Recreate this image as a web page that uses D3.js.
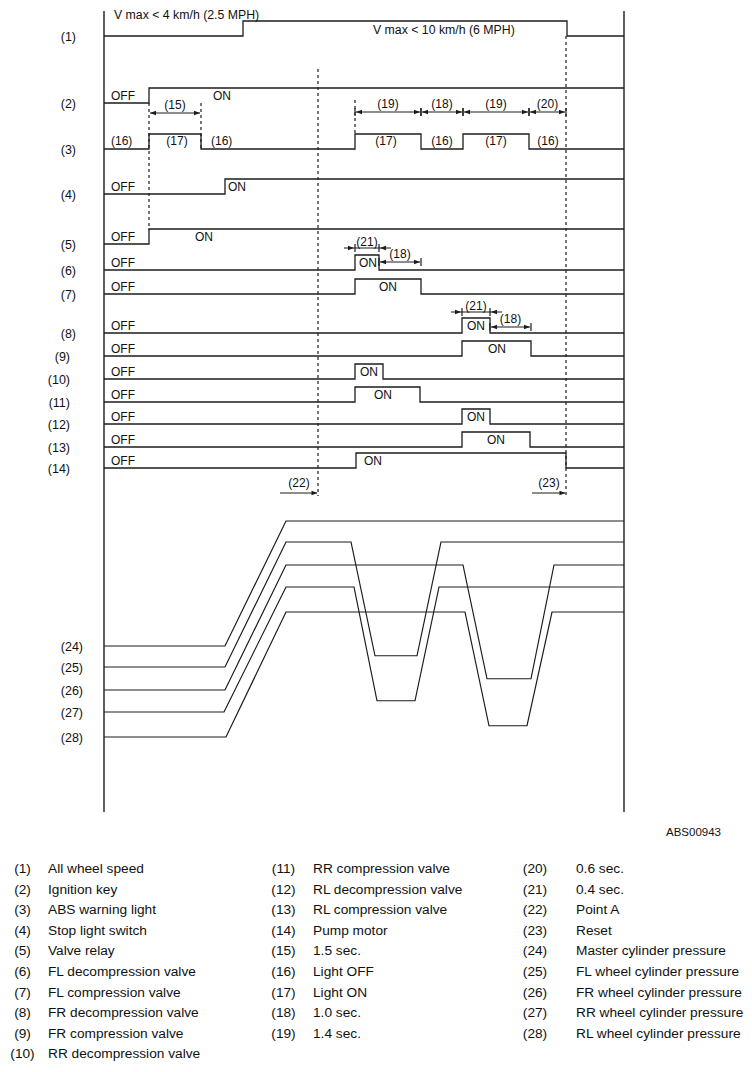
<!DOCTYPE html>
<html><head><meta charset="utf-8">
<script src="https://cdn.jsdelivr.net/npm/d3@7"></script>
<style>
body{margin:0;background:#fff}
text{font-family:"Liberation Sans",Arial,Helvetica,sans-serif;fill:#111}
</style>
</head><body>
<svg id="c" width="752" height="1072"></svg>
<script>
// ================= DATA =================
// time axis (arbitrary units across the diagram)
const timeDomain = [0, 520];

// digital signal rows: label and transition times (each starts LOW / OFF)
const rowLabels = ["(1)","(2)","(3)","(4)","(5)","(6)","(7)","(8)","(9)","(10)","(11)","(12)","(13)","(14)"];
const rowEdges = [
  [139, 463],
  [45],
  [45, 97, 251, 317, 359, 425],
  [121],
  [45],
  [251, 275],
  [251, 317],
  [358, 386],
  [358, 427],
  [251, 279],
  [251, 316],
  [358, 386],
  [358, 426],
  [252, 462]
];
const offText = ["", "OFF", "", "OFF", "OFF", "OFF", "OFF", "OFF", "OFF", "OFF", "OFF", "OFF", "OFF", "OFF"];
const onText  = ["", "ON", "", "ON", "ON", "ON", "ON", "ON", "ON", "ON", "ON", "ON", "ON", "ON"];
const speedTexts = ["V max < 4 km/h (2.5 MPH)", "V max < 10 km/h (6 MPH)"];
const lampTexts = ["(16)", "(17)", "(16)", "(17)", "(16)", "(17)", "(16)"];

// timing annotations
const durations = [
  {label: "(15)", t0: 45,  t1: 97,  kind: "out"},
  {label: "(19)", t0: 251, t1: 317, kind: "out"},
  {label: "(18)", t0: 317, t1: 359, kind: "out"},
  {label: "(19)", t0: 359, t1: 425, kind: "out"},
  {label: "(20)", t0: 425, t1: 462, kind: "out"},
  {label: "(21)", t0: 251, t1: 275, kind: "in"},
  {label: "(18)", t0: 275, t1: 317, kind: "out"},
  {label: "(21)", t0: 358, t1: 386, kind: "in"},
  {label: "(18)", t0: 386, t1: 427, kind: "out"},
  {label: "(22)", t0: 176, t1: 214, kind: "right"},
  {label: "(23)", t0: 428, t1: 462, kind: "right"}
];
const guideTimes = [45, 97, 214, 251, 462];

// pressure curves: [time, pressure %]
const pressureLabels = ["(24)","(25)","(26)","(27)","(28)"];
const pressureSeries = [
  [[0,0],[121,0],[182,100],[520,100]],
  [[0,0],[121,0],[182,100],[247,100],[271,9],[313,9],[337,100],[520,100]],
  [[0,0],[121,0],[182,100],[359,100],[383,9],[427,9],[450,100],[520,100]],
  [[0,0],[120,0],[182,100],[250,100],[273,9],[311,9],[335,100],[520,100]],
  [[0,0],[122,0],[182,100],[361,100],[385,9],[423,9],[448,100],[520,100]]
];

// legend
const legendCodes = ["(1)","(2)","(3)","(4)","(5)","(6)","(7)","(8)","(9)","(10)",
  "(11)","(12)","(13)","(14)","(15)","(16)","(17)","(18)","(19)",
  "(20)","(21)","(22)","(23)","(24)","(25)","(26)","(27)","(28)"];
const legendNames = ["All wheel speed","Ignition key","ABS warning light","Stop light switch","Valve relay",
  "FL decompression valve","FL compression valve","FR decompression valve","FR compression valve","RR decompression valve",
  "RR compression valve","RL decompression valve","RL compression valve","Pump motor","1.5 sec.","Light OFF","Light ON","1.0 sec.","1.4 sec.",
  "0.6 sec.","0.4 sec.","Point A","Reset","Master cylinder pressure","FL wheel cylinder pressure","FR wheel cylinder pressure",
  "RR wheel cylinder pressure","RL wheel cylinder pressure"];
const figureId = "ABS00943";

// ================= LAYOUT =================
const INK = "#1c1c1c";
const svg = d3.select("#c");
const x = d3.scaleLinear().domain(timeDomain).range([104, 624]);
const level = d3.scaleLinear().domain([0, 1]).range([0, -15]);
const rowBase = d3.scaleOrdinal().domain(rowLabels)
  .range([36,103,149,194,244,270,294,333,356,379,402,424,447,468]);
const rowLabelX = [76,76,76,76,76,76,76,76,70,70,70,70,70,70];
const onPos = [null,{t:109,a:"start"},null,{t:124,a:"start"},{t:91,a:"start"},{t:255,a:"start"},{t:284,a:"middle"},
  {t:363,a:"start"},{t:393,a:"middle"},{t:256,a:"start"},{t:279,a:"middle"},{t:363,a:"start"},{t:392,a:"middle"},{t:260,a:"start"}];
const lampPos = [{t:7,a:"start"},{t:73,a:"middle"},{t:107,a:"start"},{t:282,a:"middle"},{t:338,a:"middle"},{t:392,a:"middle"},{t:444,a:"middle"}];
const durY = [113,112,112,112,112,248,262,312,327,493,493];
const guideY = [[103,230],[103,150],[69,496],[100,134],[36,496]];
const pY = d3.scaleLinear().domain([0,100]).range([0,-125]);
const pBase = d3.scaleOrdinal().domain(pressureLabels).range([646,667,690,712,737]);

const g = svg.append("g");

// frame verticals
g.append("line").attr("x1", x(0)).attr("x2", x(0)).attr("y1", 11).attr("y2", 812)
  .attr("stroke", INK).attr("stroke-width", 1.4);
g.append("line").attr("x1", x(520)).attr("x2", x(520)).attr("y1", 11).attr("y2", 812)
  .attr("stroke", INK).attr("stroke-width", 1.4);

// guides
guideTimes.forEach((t, i) => {
  g.append("line").attr("x1", x(t)).attr("x2", x(t)).attr("y1", guideY[i][0]).attr("y2", guideY[i][1])
    .attr("stroke", INK).attr("stroke-width", 1.2).attr("stroke-dasharray", "3,3");
});

// digital rows
const stepLine = d3.line().x(d => x(d[0])).y(d => d[1]).curve(d3.curveStepAfter);
rowLabels.forEach((lab, i) => {
  const base = rowBase(lab);
  const pts = [[0, 0]];
  rowEdges[i].forEach((t, k) => pts.push([t, (k + 1) % 2]));
  pts.push([520, pts[pts.length - 1][1]]);
  g.append("path").attr("d", stepLine(pts.map(p => [p[0], base + level(p[1])])))
    .attr("fill", "none").attr("stroke", INK).attr("stroke-width", 1.3);
  g.append("text").attr("x", rowLabelX[i]).attr("y", base + 4.5).attr("text-anchor", "end")
    .attr("font-size", 12.5).text(lab);
  if (offText[i]) g.append("text").attr("x", 111).attr("y", base - 3.5).attr("font-size", 12).text(offText[i]);
  if (onText[i] && onPos[i]) g.append("text").attr("x", x(onPos[i].t)).attr("y", base - 3.5)
    .attr("text-anchor", onPos[i].a).attr("font-size", 12).text(onText[i]);
});

// speed texts
g.append("text").attr("x", 114).attr("y", 19).attr("font-size", 12.3).text(speedTexts[0]);
g.append("text").attr("x", 373).attr("y", 34).attr("font-size", 12.3).text(speedTexts[1]);

// lamp texts
lampTexts.forEach((s, i) => {
  g.append("text").attr("x", x(lampPos[i].t)).attr("y", 145).attr("text-anchor", lampPos[i].a)
    .attr("font-size", 12).text(s);
});

// arrowheads
function head(px, py, dir) {
  const L = 6, W = 2.2;
  g.append("path").attr("d", `M${px},${py}L${px - dir * L},${py - W}L${px - dir * L},${py + W}Z`)
    .attr("fill", INK);
}
function tick(px, py) {
  g.append("line").attr("x1", px).attr("x2", px).attr("y1", py - 4).attr("y2", py + 4)
    .attr("stroke", INK).attr("stroke-width", 1.2);
}
durations.forEach((d, i) => {
  const y = durY[i], a = x(d.t0), b = x(d.t1);
  if (d.kind === "out") {
    g.append("line").attr("x1", a + 1).attr("x2", b - 1).attr("y1", y).attr("y2", y).attr("stroke", INK).attr("stroke-width", 1.1);
    head(a + 1, y, -1); head(b - 1, y, 1);
    if (i !== 0) { tick(a, y); tick(b, y); }
    g.append("text").attr("x", (a + b) / 2).attr("y", y - 4).attr("text-anchor", "middle").attr("font-size", 12).text(d.label);
  } else if (d.kind === "in") {
    g.append("line").attr("x1", a - 11).attr("x2", b + 12).attr("y1", y).attr("y2", y).attr("stroke", INK).attr("stroke-width", 1.1);
    head(a - 1, y, 1); head(b + 1, y, -1);
    tick(a, y); tick(b, y);
    g.append("text").attr("x", (a + b) / 2).attr("y", y - 2.5).attr("text-anchor", "middle").attr("font-size", 12).text(d.label);
  } else {
    g.append("line").attr("x1", a).attr("x2", b - 1).attr("y1", y).attr("y2", y).attr("stroke", INK).attr("stroke-width", 1.1);
    head(b - 0.5, y, 1);
    g.append("text").attr("x", (a + b) / 2).attr("y", y - 6).attr("text-anchor", "middle").attr("font-size", 12).text(d.label);
  }
});

// pressure curves
const pLine = d3.line().x(d => x(d[0])).y(d => d[1]);
pressureLabels.forEach((lab, i) => {
  const base = pBase(lab);
  g.append("path").attr("d", pLine(pressureSeries[i].map(p => [p[0], base + pY(p[1])])))
    .attr("fill", "none").attr("stroke", INK).attr("stroke-width", 1.2);
  g.append("text").attr("x", 83).attr("y", base + 4.5).attr("text-anchor", "end").attr("font-size", 12.5).text(lab);
});

// figure id
g.append("text").attr("x", 721).attr("y", 836).attr("text-anchor", "end").attr("font-size", 11.5).text(figureId);

// legend
const colCode = [22.5, 283.5, 535];
const colName = [48, 313, 576];
const colStart = [0, 10, 19];
legendCodes.forEach((c, i) => {
  const col = i < 10 ? 0 : (i < 19 ? 1 : 2);
  const r = i - colStart[col];
  const y = 873 + r * 20.6;
  g.append("text").attr("x", colCode[col]).attr("y", y).attr("text-anchor", "middle").attr("font-size", 13.7).text(c);
  g.append("text").attr("x", colName[col]).attr("y", y).attr("font-size", 13.7).text(legendNames[i]);
});
</script>
</body></html>
